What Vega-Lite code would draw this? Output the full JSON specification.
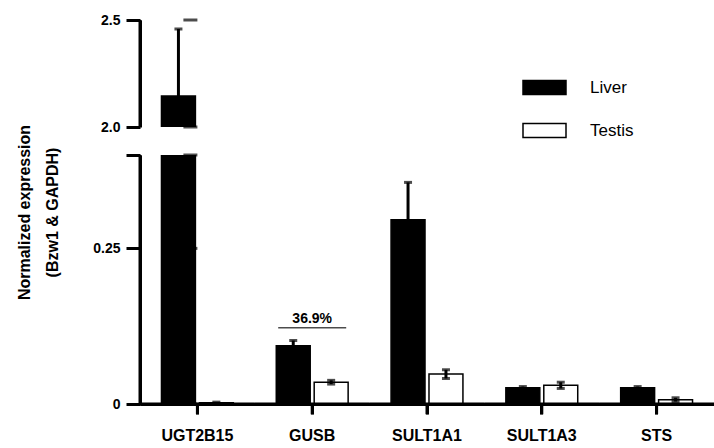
{
  "$schema": "https://vega.github.io/schema/vega-lite/v6.json",
  "padding": {"left": 16, "right": 0, "top": 13, "bottom": 4},
  "bounds": "flush",
  "spacing": 28,
  "config": {
    "view": {"stroke": null},
    "font": "Liberation Sans",
    "axis": {"domainColor": "black", "domainWidth": 3, "tickColor": "black", "tickWidth": 3, "grid": false, "labelColor": "black", "titleColor": "black"}
  },
  "datasets": {
    "expr": [
      {"gene": "UGT2B15", "tissue": "Liver", "value": 2.145, "lo": 1.832, "hi": 2.458},
      {"gene": "UGT2B15", "tissue": "Testis", "value": 0.002, "lo": 0.001, "hi": 0.003},
      {"gene": "GUSB", "tissue": "Liver", "value": 0.0935, "lo": 0.085, "hi": 0.102},
      {"gene": "GUSB", "tissue": "Testis", "value": 0.035, "lo": 0.032, "hi": 0.038},
      {"gene": "SULT1A1", "tissue": "Liver", "value": 0.296, "lo": 0.236, "hi": 0.356},
      {"gene": "SULT1A1", "tissue": "Testis", "value": 0.048, "lo": 0.041, "hi": 0.055},
      {"gene": "SULT1A3", "tissue": "Liver", "value": 0.026, "lo": 0.024, "hi": 0.028},
      {"gene": "SULT1A3", "tissue": "Testis", "value": 0.030, "lo": 0.025, "hi": 0.035},
      {"gene": "STS", "tissue": "Liver", "value": 0.026, "lo": 0.024, "hi": 0.028},
      {"gene": "STS", "tissue": "Testis", "value": 0.007, "lo": 0.004, "hi": 0.010}
    ],
    "note": [
      {"gene": "GUSB", "lineY": 0.1226, "textY": 0.136, "label": "36.9%"}
    ],
    "ytop": [{"v": 2.0}, {"v": 2.5}],
    "ybot": [{"v": 0}, {"v": 0.25}, {"v": 0.4}],
    "single": [{"k": 1}]
  },
  "resolve": {"legend": {"fill": "independent"}},
  "vconcat": [
    {
      "width": 574,
      "height": 107,
      "resolve": {"axis": {"x": "independent", "y": "independent"}},
      "layer": [
        {
          "data": {"name": "expr"},
          "resolve": {"axis": {"x": "independent", "y": "independent"}},
          "encoding": {
            "xOffset": {"field": "tissue", "type": "nominal", "scale": {"domain": ["Liver", "Testis"], "paddingInner": 0.105, "paddingOuter": 0.566}}
          },
          "layer": [
            {
              "mark": {"type": "bar", "clip": true, "stroke": "black", "strokeWidth": 1.5},
              "encoding": {
                "x": {"field": "gene", "type": "nominal", "sort": null,
                      "scale": {"domain": ["UGT2B15", "GUSB", "SULT1A1", "SULT1A3", "STS"], "paddingInner": 0, "paddingOuter": 0},
                      "axis": null},
                "y": {"field": "value", "type": "quantitative",
                      "scale": {"domain": [2.0, 2.5]},
                      "axis": {"values": [2.0, 2.5], "format": ".1f", "title": null, "tickSize": 14,
                               "labelFontSize": 14, "labelFontWeight": "bold", "labelPadding": 6}},
                "fill": {"field": "tissue", "type": "nominal",
                         "scale": {"domain": ["Liver", "Testis"], "range": ["black", "white"]},
                         "legend": {"title": null, "orient": "none", "legendX": 382, "legendY": 45, "padding": 0,
                                    "symbolType": "M-1,-0.326H1V0.326H-1Z", "symbolSize": 1849, "symbolStrokeColor": "black", "symbolStrokeWidth": 1.5,
                                    "labelFontSize": 17, "labelColor": "black", "labelOffset": 23, "rowPadding": 10}}
              }
            },
            {
              "mark": {"type": "rule", "clip": true, "color": "black", "strokeWidth": 3},
              "encoding": {
                "x": {"field": "gene", "type": "nominal", "sort": null, "axis": null},
                "y": {"field": "lo", "type": "quantitative", "axis": null}, "y2": {"field": "hi"}
              }
            },
            {
              "mark": {"type": "tick", "clip": true, "color": "black", "size": 8, "thickness": 3},
              "encoding": {
                "x": {"field": "gene", "type": "nominal", "sort": null, "axis": null},
                "y": {"field": "hi", "type": "quantitative", "axis": null}
              }
            }
          ]
        },
        {
          "data": {"name": "single"},
          "mark": {"type": "rule", "color": "black", "strokeWidth": 3},
          "encoding": {
            "x": {"datum": "UGT2B15", "type": "nominal", "bandPosition": 0, "axis": null},
            "y": {"datum": 2.0, "type": "quantitative", "axis": null},
            "y2": {"datum": 2.5}
          }
        },
        {
          "data": {"name": "ytop"},
          "mark": {"type": "tick", "color": "black", "size": 14, "thickness": 3, "xOffset": -7},
          "encoding": {
            "x": {"datum": "UGT2B15", "type": "nominal", "bandPosition": 0, "axis": null},
            "y": {"field": "v", "type": "quantitative", "axis": null}
          }
        }
      ]
    },
    {
      "width": 574,
      "height": 249,
      "resolve": {"axis": {"x": "independent", "y": "independent"}},
      "layer": [
        {
          "data": {"name": "expr"},
          "resolve": {"axis": {"x": "independent", "y": "independent"}},
          "encoding": {
            "xOffset": {"field": "tissue", "type": "nominal", "scale": {"domain": ["Liver", "Testis"], "paddingInner": 0.105, "paddingOuter": 0.566}}
          },
          "layer": [
            {
              "mark": {"type": "bar", "clip": true, "stroke": "black", "strokeWidth": 1.5},
              "encoding": {
                "x": {"field": "gene", "type": "nominal", "sort": null,
                      "scale": {"domain": ["UGT2B15", "GUSB", "SULT1A1", "SULT1A3", "STS"], "paddingInner": 0, "paddingOuter": 0},
                      "axis": {"title": null, "labelAngle": 0, "tickSize": 10,
                               "labelFontSize": 16, "labelFontWeight": "bold", "labelPadding": 13}},
                "y": {"field": "value", "type": "quantitative",
                      "scale": {"domain": [0, 0.4]},
                      "axis": {"values": [0, 0.25, 0.4], "labelExpr": "datum.value == 0 ? '0' : (datum.value > 0.3 ? '' : format(datum.value, '.2f'))",
                               "title": ["Normalized expression", "(Bzw1 & GAPDH)"], "titleFontSize": 16, "titleFontWeight": "bold", "titleLineHeight": 28,
                               "titleY": 57, "titlePadding": 32, "tickSize": 14,
                               "labelFontSize": 14, "labelFontWeight": "bold", "labelPadding": 6}},
                "fill": {"field": "tissue", "type": "nominal",
                         "scale": {"domain": ["Liver", "Testis"], "range": ["black", "white"]}, "legend": null}
              }
            },
            {
              "mark": {"type": "rule", "clip": true, "color": "black", "strokeWidth": 3},
              "encoding": {
                "x": {"field": "gene", "type": "nominal", "sort": null, "axis": null},
                "y": {"field": "lo", "type": "quantitative", "axis": null}, "y2": {"field": "hi"}
              }
            },
            {
              "mark": {"type": "tick", "clip": true, "color": "black", "size": 8, "thickness": 3},
              "encoding": {
                "x": {"field": "gene", "type": "nominal", "sort": null, "axis": null},
                "y": {"field": "hi", "type": "quantitative", "axis": null}
              }
            },
            {
              "mark": {"type": "tick", "clip": true, "color": "black", "size": 8, "thickness": 3},
              "encoding": {
                "x": {"field": "gene", "type": "nominal", "sort": null, "axis": null},
                "y": {"field": "lo", "type": "quantitative", "axis": null}
              }
            }
          ]
        },
        {
          "data": {"name": "expr"},
          "transform": [{"filter": "datum.tissue == 'Liver'"}],
          "resolve": {"axis": {"x": "independent", "y": "independent"}},
          "layer": [
            {
              "mark": {"type": "bar", "color": "black"},
              "encoding": {
                "x": {"field": "gene", "type": "nominal", "sort": null, "axis": null},
                "y": {"datum": 0.0024, "type": "quantitative", "axis": null},
                "y2": {"datum": -0.0024}
              }
            },
            {
              "mark": {"type": "rule", "color": "black", "strokeWidth": 3},
              "encoding": {
                "x": {"field": "gene", "type": "nominal", "sort": null, "axis": null},
                "y": {"datum": 0, "type": "quantitative", "axis": null},
                "y2": {"datum": -0.0165}
              }
            }
          ]
        },
        {
          "data": {"name": "single"},
          "mark": {"type": "rule", "color": "black", "strokeWidth": 3},
          "encoding": {
            "x": {"datum": "UGT2B15", "type": "nominal", "bandPosition": 0, "axis": null},
            "y": {"datum": 0, "type": "quantitative", "axis": null},
            "y2": {"datum": 0.4}
          }
        },
        {
          "data": {"name": "ybot"},
          "mark": {"type": "tick", "color": "black", "size": 14, "thickness": 3, "xOffset": -7},
          "encoding": {
            "x": {"datum": "UGT2B15", "type": "nominal", "bandPosition": 0, "axis": null},
            "y": {"field": "v", "type": "quantitative", "axis": null}
          }
        },
        {
          "data": {"name": "note"},
          "resolve": {"axis": {"x": "independent", "y": "independent"}},
          "layer": [
            {
              "mark": {"type": "tick", "color": "black", "size": 68, "thickness": 1.5},
              "encoding": {
                "x": {"field": "gene", "type": "nominal", "sort": null, "axis": null},
                "y": {"field": "lineY", "type": "quantitative", "axis": null}
              }
            },
            {
              "mark": {"type": "text", "fontSize": 14, "fontWeight": "bold", "color": "black", "baseline": "middle"},
              "encoding": {
                "x": {"field": "gene", "type": "nominal", "sort": null, "axis": null},
                "y": {"field": "textY", "type": "quantitative", "axis": null},
                "text": {"field": "label"}
              }
            }
          ]
        }
      ]
    }
  ]
}
